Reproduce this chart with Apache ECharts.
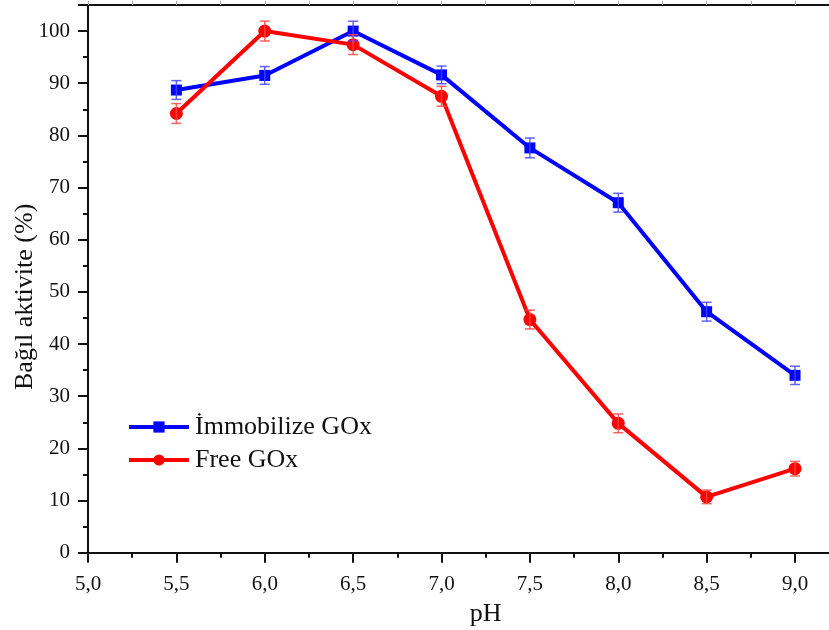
<!DOCTYPE html>
<html>
<head>
<meta charset="utf-8">
<script src="https://cdn.jsdelivr.net/npm/echarts@6/dist/echarts.min.js"></script>
<style>html,body{margin:0;padding:0;background:#fff}#c{width:829px;height:630px}</style>
</head>
<body>
<div id="c"></div>
<script>
const phValues = [5.5, 6.0, 6.5, 7.0, 7.5, 8.0, 8.5, 9.0];
const immobilizeValues = [88.7, 91.5, 100.0, 91.6, 77.6, 67.1, 46.2, 34.0];
const immobilizeErr = [1.8, 1.7, 1.9, 1.7, 1.9, 1.8, 1.8, 1.75];
const freeValues = [84.2, 100.0, 97.4, 87.5, 44.7, 24.8, 10.7, 16.1];
const freeErr = [1.9, 1.9, 1.9, 1.9, 1.8, 1.8, 1.3, 1.4];
const xTickLabels = ['5,0','5,5','6,0','6,5','7,0','7,5','8,0','8,5','9,0','9,5'];
const yTickLabels = ['0','10','20','30','40','50','60','70','80','90','100'];
const seriesNames = ['İmmobilize GOx', 'Free GOx'];

const FONT = '"Liberation Serif", "Times New Roman", serif';
const chart = echarts.init(document.getElementById('c'), null, {renderer: 'canvas'});

function pairs(xs, ys, es) { return xs.map((x, i) => es ? [x, ys[i], es[i]] : [x, ys[i]]); }

function errRender(color) {
  return function (params, api) {
    const x = api.value(0), y = api.value(1), e = api.value(2);
    const t = api.coord([x, y + e]), b = api.coord([x, y - e]);
    const w = 5;
    const st = {stroke: color, lineWidth: 1.5};
    return {type: 'group', children: [
      {type: 'line', shape: {x1: t[0], y1: t[1], x2: b[0], y2: b[1]}, style: st},
      {type: 'line', shape: {x1: t[0] - w, y1: t[1], x2: t[0] + w, y2: t[1]}, style: st},
      {type: 'line', shape: {x1: b[0] - w, y1: b[1], x2: b[0] + w, y2: b[1]}, style: st}
    ]};
  };
}

function xLabel(v) {
  const i = Math.round((v - 5) / 0.5);
  return Math.abs(v - (5 + i * 0.5)) < 1e-6 ? (xTickLabels[i] || '') : '';
}
function yLabel(v) {
  const i = Math.round(v / 10);
  return Math.abs(v - i * 10) < 1e-6 ? (yTickLabels[i] || '') : '';
}

const option = {
  animation: false,
  backgroundColor: '#fff',
  textStyle: {fontFamily: FONT},
  grid: {left: 88, top: 5, width: 795.4, height: 547.7, containLabel: false, outerBoundsMode: 'none'},
  legend: {
    orient: 'vertical', left: 122, top: 409,
    data: seriesNames,
    itemWidth: 60, itemHeight: 14, itemGap: 7,
    lineStyle: {width: 4},
    textStyle: {fontFamily: FONT, fontSize: 26, color: '#111', lineHeight: 26, padding: [0, 0, 0, 1]}
  },
  xAxis: [{
    type: 'value', min: 5, max: 9.5, interval: 0.5, position: 'bottom',
    name: 'pH', nameLocation: 'middle', nameGap: 48, nameMoveOverlap: false,
    nameTextStyle: {fontFamily: FONT, fontSize: 26, color: '#111'},
    axisLine: {show: true, onZero: false, lineStyle: {color: '#111', width: 2}},
    axisTick: {show: true, inside: false, length: 10, lineStyle: {color: '#111', width: 2}},
    minorTick: {show: true, splitNumber: 2, length: 5, lineStyle: {color: '#111', width: 2}},
    axisLabel: {fontFamily: FONT, fontSize: 21, color: '#111', margin: 21, formatter: xLabel},
    splitLine: {show: false}
  }, {
    type: 'value', min: 5, max: 9.5, interval: 0.25, position: 'top',
    axisLine: {show: true, onZero: false, lineStyle: {color: '#111', width: 2}},
    axisTick: {show: true, inside: false, length: 4, lineStyle: {color: '#aaa', width: 1}},
    axisLabel: {show: false}, splitLine: {show: false}
  }],
  yAxis: {
    type: 'value', min: 0, max: 105, interval: 10,
    name: 'Bağıl aktivite (%)', nameLocation: 'middle', nameGap: 50, nameMoveOverlap: false,
    nameTextStyle: {fontFamily: FONT, fontSize: 26, color: '#111', padding: [0, 36, 0, 0]},
    axisLine: {show: true, onZero: false, lineStyle: {color: '#111', width: 2}},
    axisTick: {show: true, inside: false, length: 10, lineStyle: {color: '#111', width: 2}},
    minorTick: {show: true, splitNumber: 2, length: 5, lineStyle: {color: '#111', width: 2}},
    axisLabel: {fontFamily: FONT, fontSize: 21, color: '#111', margin: 18, showMaxLabel: false, formatter: yLabel},
    splitLine: {show: false}
  },
  series: [
    {
      name: seriesNames[0], type: 'line', data: pairs(phValues, immobilizeValues),
      symbol: 'rect', symbolSize: 11, color: '#0000ff',
      lineStyle: {color: '#0000ff', width: 4}, itemStyle: {color: '#0000ff'}, z: 3
    },
    {
      name: seriesNames[1], type: 'line', data: pairs(phValues, freeValues),
      symbol: 'circle', symbolSize: 13, color: '#ff0000',
      lineStyle: {color: '#ff0000', width: 4}, itemStyle: {color: '#ff0000'}, z: 4
    },
    {
      name: 'errI', type: 'custom', data: pairs(phValues, immobilizeValues, immobilizeErr),
      renderItem: errRender('rgba(70,70,255,0.85)'), z: 10, silent: true
    },
    {
      name: 'errF', type: 'custom', data: pairs(phValues, freeValues, freeErr),
      renderItem: errRender('rgba(255,70,70,0.85)'), z: 10, silent: true
    }
  ]
};
chart.setOption(option);
</script>
</body>
</html>
